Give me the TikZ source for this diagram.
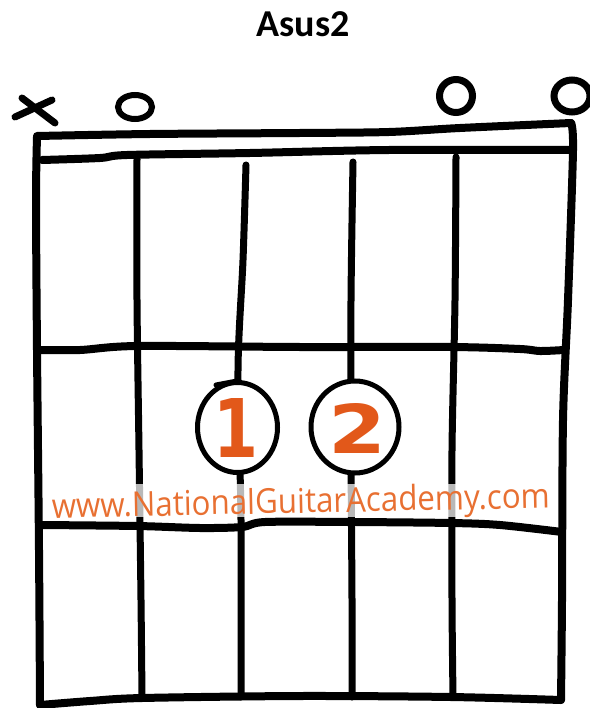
\documentclass[tikz,border=0pt]{standalone}
\usepackage{fontspec}
\usetikzlibrary{shapes.geometric}
\newfontfamily\titlefont{Carlito}
\newfontfamily\digitfont{DejaVu Sans}
\newfontfamily\wmfont{Open Sans}
\definecolor{wmorange}{RGB}{232,112,50}
\definecolor{digorange}{RGB}{226,88,26}
\begin{document}
\begin{tikzpicture}[x=1pt,y=-1pt,
  ink/.style={line width=7pt, line cap=round, line join=round},
  fretink/.style={line width=8pt, line cap=round, line join=round},
  finger/.style={ellipse, draw, line width=5pt, fill=white, inner sep=0pt},
  openmark/.style={ellipse, draw, inner sep=0pt},
  digit/.style={text=digorange, inner sep=0pt},
]
\useasboundingbox[fill=white] (0,0) rectangle (589,708);

% title
\node[anchor=base, inner sep=0pt, font=\titlefont\bfseries\fontsize{38}{38}\selectfont] (title) at (303,37) {Asus2};

% frame
\draw[fretink] plot[smooth] coordinates {(37,137) (36,200) (37,350) (39,550) (40,705)};
\draw[fretink] plot[smooth] coordinates {(37,136) (150,134) (300,133) (389,132) (460,128) (571,123)};
\draw[fretink] plot[smooth] coordinates {(571,123) (573,150) (568,300) (563,420) (562,600) (561,700)};
\draw[fretink] plot[smooth] coordinates {(40,705) (90,701) (142,698) (300,696) (451,697) (561,700)};

% nut and frets
\draw[fretink] plot[smooth] coordinates {(42,160) (100,158) (127,155) (250,153) (389,150) (573,150)};
\draw[fretink] plot[smooth] coordinates {(37,350) (80,350) (137,346) (300,347) (451,347) (520,349) (540,351) (564,350)};
\draw[fretink] plot[smooth] coordinates {(40,525) (137,526) (200,528) (242,527) (265,522) (352,522) (451,523) (500,525) (562,532)};

% strings
\draw[ink] plot[smooth] coordinates {(137,159) (137,300) (139,450) (141,600) (142,698)};
\draw[ink] plot[smooth] coordinates {(246,165) (243,260) (238,370) (241,520) (241,697)};
\draw[ink] plot[smooth] coordinates {(353,162) (351,300) (351,450) (352,600) (352,697)};
\draw[ink] plot[smooth] coordinates {(456,157) (455,300) (452,450) (452,600) (453,697)};

% finger circles
\node[finger, minimum width=80pt, minimum height=90pt] (f1) at (237.5,427.5) {};
\node[finger, minimum width=88pt, minimum height=92pt] (f2) at (355,427) {};
\draw[line width=5pt, line cap=round] (216,385) -- (237,381);
\node[digit] (d1) at (236,427.5) {\resizebox{45pt}{59pt}{\digitfont\bfseries 1}};
\node[digit] (d2) at (357,428) {\resizebox{58pt}{50pt}{\digitfont\bfseries 2}};

% watermark
\fill[white, opacity=0.72] (48,484) rectangle (555,517);
\node[anchor=base, inner sep=0pt, text=wmorange, rotate=1.2] (wm) at (301,513)
  {\resizebox{498pt}{26pt}{\wmfont www.NationalGuitarAcademy.com}};

% open / muted markers
\draw[ink] (15,117) -- (52,100);
\draw[ink] (22,98) -- (55,123);
\node[openmark, line width=6pt, minimum width=34pt, minimum height=24pt] (o5) at (135,107) {};
\node[openmark, line width=7pt, minimum width=33pt, minimum height=33pt] (o2) at (456,96) {};
\node[openmark, line width=7pt, minimum width=36pt, minimum height=32pt] (o1) at (572,96) {};
\end{tikzpicture}
\end{document}
